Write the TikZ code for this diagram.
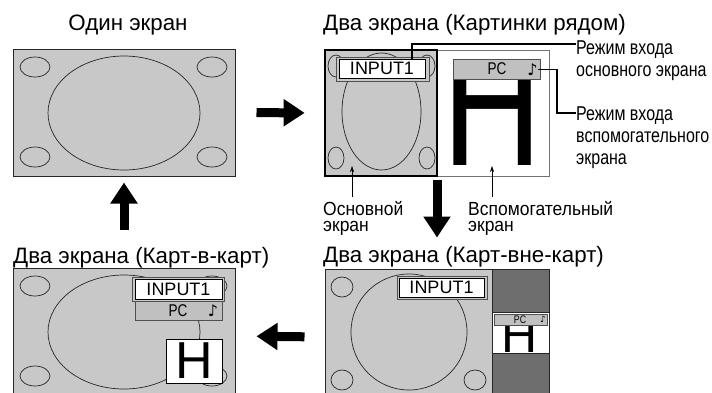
\documentclass[tikz,border=0pt]{standalone}
\usepackage{fontspec}
\setmainfont{Liberation Sans}
\newfontfamily\narrowfont{Liberation Sans}[FakeStretch=0.8]
\newfontfamily\semifont{Liberation Sans}[FakeStretch=0.92]
\newfontfamily\notefont{DejaVu Sans}
\usepackage{graphicx}
\usetikzlibrary{arrows.meta, positioning}
\definecolor{scrgray}{RGB}{200, 200, 200}
\definecolor{bargray}{RGB}{192, 192, 192}
\definecolor{popgray}{RGB}{110, 110, 110}
\definecolor{framegray}{RGB}{80, 80, 80}

\begin{document}
\begin{tikzpicture}[x=1pt, y=-1pt,
    screen/.style={rectangle, draw=black!85, fill=scrgray, line width=1pt, inner sep=0pt},
    blob/.style={draw=black!85, line width=0.7pt},
    inframe/.style={rectangle, draw=framegray, fill=scrgray, line width=0.6pt, inner sep=0pt},
    inbox/.style={rectangle, draw=black, fill=white, line width=0.9pt, inner sep=0pt,
                  font=\fontsize{18}{18}\selectfont},
    pcbar/.style={rectangle, draw=framegray, fill=bargray, line width=0.7pt, inner sep=0pt},
    pctext/.style={inner sep=0pt, font=\narrowfont\fontsize{17}{17}\selectfont},
    note/.style={inner sep=0pt, font=\notefont\bfseries\fontsize{16}{16}\selectfont},
    title/.style={anchor=base west, inner sep=0pt, font=\fontsize{22.3}{24}\selectfont},
    tag/.style={anchor=north west, inner sep=0pt, align=left,
                font=\narrowfont\fontsize{20}{22}\selectfont},
    subtag/.style={anchor=north west, inner sep=0pt, align=left,
                font=\semifont\fontsize{19}{16}\selectfont},
    callout/.style={line width=1.1pt},
    pointer/.style={line width=0.6pt, -{Stealth[length=6pt, width=4pt]}},
    bigarrow/.style={line width=9pt, -{Triangle[length=21pt, width=26pt]}}
  ]
    \useasboundingbox (0,0) rectangle (712,392);

    % Single screen
    \node[screen, minimum width=222pt, minimum height=127pt] (scr1) at (124,112.5) {};
    \foreach \ex/\ey in {35/67, 212/67, 35/157, 212/157}
      \draw[blob] (\ex,\ey) ellipse [x radius=15pt, y radius=10pt];
    \draw[blob] (124,113) ellipse [x radius=76pt, y radius=57pt];
    \node[title, anchor=base] (t1) at (128,30) {Один экран};

    % Side by side
    \node[screen, draw=black!55, fill=white, line width=0.7pt,
          minimum width=224pt, minimum height=126pt] (scr2) at (437,113) {};
    \node[screen, draw=black, line width=1.4pt,
          minimum width=112pt, minimum height=126pt] (main2) at (381,113) {};
    \foreach \ex/\ey in {336/66, 427/66, 336/158, 427/158}
      \draw[blob] (\ex,\ey) ellipse [x radius=8pt, y radius=11pt];
    \draw[blob] (381.5,111.5) ellipse [x radius=39.5pt, y radius=58.5pt];
    \node[inframe, minimum width=93pt, minimum height=24pt] (frame2) at (382.5,69) {};
    \node[inbox, minimum width=86pt, minimum height=19pt] (in2) at (382,68.5) {INPUT1};
    \begin{scope}
      \clip (437,60) rectangle (549,175);
      \node[inner sep=0pt, anchor=south] (hbig) at (493,166) {\resizebox{100pt}{121pt}{H}};
    \end{scope}
    \node[pcbar, minimum width=87pt, minimum height=20pt] (bar2) at (496.5,69) {};
    \node[pctext] (pc2) at (497,69) {PC};
    \node[note] (note2) at (532.5,69.5) {♪};
    \node[title] (t2) at (323,30) {Два экрана (Картинки рядом)};

    % Callouts
    \node[tag] (lbl1) at (576,40.7) {Режим входа\\основного экрана};
    \node[tag] (lbl2) at (576,106.7) {Режим входа\\вспомогательного\\экрана};
    \coordinate (c1) at (412,44);
    \coordinate (c2) at (557,113);
    \draw[callout] (c1 |- in2.north) -- (c1) -- (c1 -| lbl1.west);
    \draw[callout] (note2.east) -| (c2) -- (c2 -| lbl2.west);

    % Main / sub labels
    \node[subtag] (lblmain) at (323,201) {Основной\\экран};
    \node[subtag] (lblsub) at (468,201) {Вспомогательный\\экран};
    \coordinate (p1) at (352,166);
    \coordinate (p2) at (492,166);
    \draw[pointer, shorten <=4pt] (p1 |- lblmain.north) -- (p1);
    \draw[pointer, shorten <=4pt] (p2 |- lblsub.north) -- (p2);

    % Picture in picture
    \node[screen, minimum width=222pt, minimum height=127pt] (scr3) at (124,331.5) {};
    \foreach \ex/\ey in {35/286, 212/286, 35/376, 212/376}
      \draw[blob] (\ex,\ey) ellipse [x radius=15pt, y radius=10pt];
    \draw[blob] (124,332) ellipse [x radius=76pt, y radius=57pt];
    \node[inframe, minimum width=92pt, minimum height=24pt] (frame3) at (178,289) {};
    \node[inbox, minimum width=87pt, minimum height=20pt] (in3) at (178.5,289) {INPUT1};
    \node[pcbar, minimum width=87pt, minimum height=19pt] (bar3) at (178.5,310.5) {};
    \node[pctext] (pc3) at (178,310.5) {PC};
    \node[note] (note3) at (213,311) {♪};
    \node[inbox, minimum width=56pt, minimum height=44pt,
          font=\fontsize{52}{52}\selectfont] (hbox3) at (194,361) {H};
    \node[title] (t3) at (13,263) {Два экрана (Карт-в-карт)};

    % Picture out of picture
    \node[screen, minimum width=224pt, minimum height=127pt] (scr4) at (437,332.5) {};
    \foreach \ex/\ey in {342/287, 475/287, 342/380, 475/380}
      \draw[blob] (\ex,\ey) ellipse [x radius=11pt, y radius=10pt];
    \draw[blob] (409,332) circle [radius=58pt];
    \node[screen, fill=popgray, minimum width=57pt, minimum height=127pt] (side4) at (520.5,332.5) {};
    \node[screen, fill=white, line width=0.7pt, minimum width=57pt, minimum height=41pt] (win4) at (520.5,332.5) {};
    \begin{scope}
      \clip (492.5,312.5) rectangle (548.5,352.5);
      \node[inner sep=0pt, anchor=base, font=\fontsize{50}{50}\selectfont] (hsmall) at (520,352) {H};
    \end{scope}
    \node[pcbar, minimum width=53pt, minimum height=11pt] (bar4) at (520.5,319.5) {};
    \node[pctext, font=\narrowfont\fontsize{11}{11}\selectfont] (pc4) at (520,319.5) {PC};
    \node[note, font=\notefont\bfseries\fontsize{9}{9}\selectfont] (note4) at (543,319.5) {♪};
    \node[inframe, minimum width=90pt, minimum height=23pt] (frame4) at (442,287.5) {};
    \node[inbox, minimum width=85pt, minimum height=19pt] (in4) at (441.5,287.5) {INPUT1};
    \node[title] (t4) at (323,262) {Два экрана (Карт-вне-карт)};

    % Arrows
    \draw[bigarrow, shorten <=21pt, shorten >=20pt] (scr1.east) -- (scr2.west);
    \draw[bigarrow, shorten <=4pt, shorten >=31pt] (scr2.south) -- (scr4.north);
    \draw[bigarrow, shorten <=20pt, shorten >=21pt] ([yshift=-4.5pt]scr4.west) -- ([yshift=-4.5pt]scr3.east);
    \draw[bigarrow, shorten <=38pt, shorten >=6pt] (scr3.north) -- (scr1.south);
  \end{tikzpicture}
\end{document}
